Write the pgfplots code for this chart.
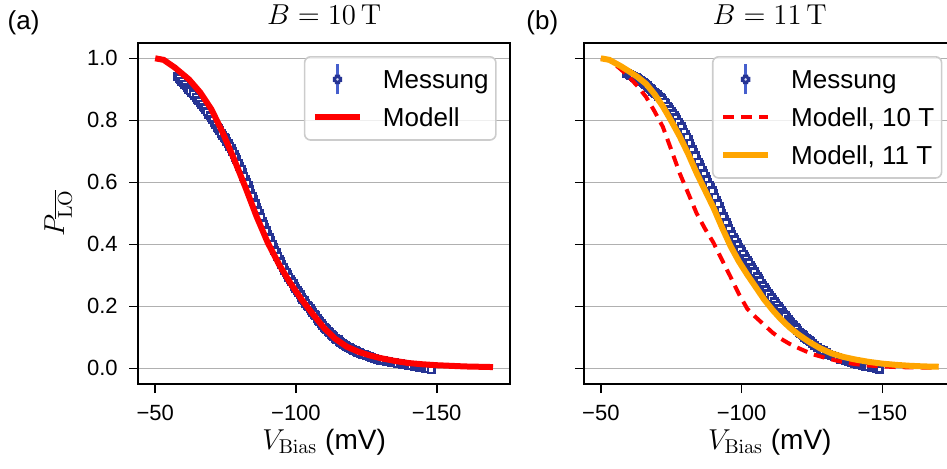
\documentclass[border=0pt]{standalone}
\usepackage[no-math]{fontspec}
\setmainfont{Liberation Sans}
\usepackage{pgfplots}
\pgfplotsset{compat=1.18}
\usepackage{pgfplotstable}

\definecolor{markcol}{RGB}{38,52,148}
\definecolor{errcol}{RGB}{70,95,205}
\definecolor{gridcol}{RGB}{176,176,176}
\definecolor{legframe}{RGB}{204,204,204}
\definecolor{orangeline}{RGB}{255,165,0}

% Messung, B = 10 T
\pgfplotstableread{
V P
-58 0.940
-59 0.931
-60 0.921
-61 0.912
-62 0.899
-63 0.891
-64 0.880
-65 0.868
-66 0.859
-67 0.845
-68 0.834
-69 0.820
-70 0.808
-71 0.794
-72 0.777
-73 0.766
-74 0.751
-75 0.740
-76 0.725
-77 0.709
-78 0.689
-79 0.672
-80 0.651
-81 0.632
-82 0.609
-83 0.589
-84 0.565
-85 0.544
-86 0.519
-87 0.499
-88 0.475
-89 0.455
-90 0.431
-91 0.412
-92 0.389
-93 0.372
-94 0.351
-95 0.336
-96 0.317
-97 0.303
-98 0.285
-99 0.273
-100 0.257
-101 0.245
-102 0.229
-103 0.218
-104 0.203
-105 0.193
-106 0.179
-107 0.169
-108 0.155
-109 0.146
-110 0.133
-111 0.125
-112 0.114
-113 0.107
-114 0.097
-115 0.092
-116 0.083
-117 0.078
-118 0.070
-119 0.067
-120 0.060
-121 0.057
-122 0.051
-123 0.049
-124 0.044
-125 0.042
-126 0.037
-127 0.036
-128 0.031
-129 0.030
-130 0.026
-131 0.026
-132 0.022
-133 0.022
-134 0.018
-135 0.018
-136 0.014
-137 0.014
-138 0.011
-139 0.011
-140 0.008
-141 0.008
-142 0.005
-143 0.005
-144 0.002
-145 0.002
-146 -0.001
-147 -0.002
-148 -0.005
-58.5 0.936
-59.5 0.926
-60.5 0.917
-61.5 0.905
-62.5 0.895
-63.5 0.886
-64.5 0.874
-65.5 0.864
-66.5 0.852
-67.5 0.840
-68.5 0.827
-69.5 0.814
-70.5 0.801
-71.5 0.785
-72.5 0.772
-73.5 0.758
-74.5 0.746
-75.5 0.732
-76.5 0.717
-77.5 0.699
-78.5 0.681
-79.5 0.661
-80.5 0.642
-81.5 0.620
-82.5 0.599
-83.5 0.577
-84.5 0.555
-85.5 0.531
-86.5 0.509
-87.5 0.487
-88.5 0.465
-89.5 0.443
-90.5 0.421
-91.5 0.400
-92.5 0.380
-93.5 0.361
-94.5 0.344
-95.5 0.326
-96.5 0.310
-97.5 0.294
-98.5 0.279
-99.5 0.265
-100.5 0.251
-101.5 0.237
-102.5 0.223
-103.5 0.210
-104.5 0.198
-105.5 0.186
-106.5 0.174
-107.5 0.162
-108.5 0.150
-109.5 0.139
-110.5 0.129
-111.5 0.119
-112.5 0.110
-113.5 0.102
-114.5 0.094
-115.5 0.087
-116.5 0.080
-117.5 0.074
-118.5 0.068
-119.5 0.063
-120.5 0.058
-121.5 0.054
-122.5 0.050
-123.5 0.046
-124.5 0.043
}\messA

% Modell, B = 10 T (panel a)
\pgfplotstableread{
V P
-50 1.000
-53 0.995
-57 0.970
-62 0.932
-66 0.890
-70 0.835
-74 0.760
-78 0.675
-82 0.585
-86 0.490
-90 0.405
-94 0.335
-98 0.275
-102 0.222
-106 0.175
-110 0.130
-114 0.095
-118 0.070
-122 0.054
-126 0.042
-130 0.033
-135 0.024
-140 0.017
-145 0.013
-150 0.010
-155 0.008
-160 0.006
-165 0.005
-170 0.004
}\modA

% Messung, B = 11 T
\pgfplotstableread{
V P
-59 0.952
-60 0.948
-61 0.944
-62 0.939
-63 0.935
-64 0.929
-65 0.922
-66 0.915
-67 0.907
-68 0.899
-69 0.890
-70 0.882
-71 0.874
-72 0.865
-73 0.853
-74 0.840
-75 0.828
-76 0.815
-77 0.801
-78 0.788
-79 0.771
-80 0.754
-81 0.737
-82 0.716
-83 0.696
-84 0.675
-85 0.656
-86 0.638
-87 0.619
-88 0.600
-89 0.582
-90 0.563
-91 0.542
-92 0.521
-93 0.500
-94 0.480
-95 0.460
-96 0.440
-97 0.423
-98 0.407
-99 0.390
-100 0.376
-101 0.361
-102 0.347
-103 0.333
-104 0.318
-105 0.304
-106 0.289
-107 0.275
-108 0.260
-109 0.247
-110 0.234
-111 0.221
-112 0.209
-113 0.198
-114 0.186
-115 0.175
-116 0.163
-117 0.152
-118 0.142
-119 0.132
-120 0.122
-121 0.113
-122 0.105
-123 0.096
-124 0.089
-125 0.081
-126 0.074
-127 0.068
-128 0.062
-129 0.056
-130 0.051
-131 0.046
-132 0.041
-133 0.037
-134 0.034
-135 0.030
-136 0.027
-137 0.024
-138 0.021
-139 0.018
-140 0.016
-141 0.013
-142 0.011
-143 0.009
-144 0.007
-145 0.005
-146 0.003
-147 0.001
-148 -0.001
-149 -0.004
-59.5 0.950
-60.5 0.946
-61.5 0.941
-62.5 0.937
-63.5 0.932
-64.5 0.925
-65.5 0.918
-66.5 0.911
-67.5 0.903
-68.5 0.894
-69.5 0.886
-70.5 0.878
-71.5 0.869
-72.5 0.859
-73.5 0.846
-74.5 0.834
-75.5 0.821
-76.5 0.808
-77.5 0.794
-78.5 0.779
-79.5 0.762
-80.5 0.745
-81.5 0.726
-82.5 0.706
-83.5 0.685
-84.5 0.665
-85.5 0.647
-86.5 0.628
-87.5 0.609
-88.5 0.591
-89.5 0.572
-90.5 0.552
-91.5 0.531
-92.5 0.510
-93.5 0.490
-94.5 0.470
-95.5 0.450
-96.5 0.431
-97.5 0.415
-98.5 0.398
-99.5 0.383
-100.5 0.368
-101.5 0.354
-102.5 0.340
-103.5 0.325
-104.5 0.311
-105.5 0.296
-106.5 0.282
-107.5 0.267
-108.5 0.253
-109.5 0.240
-110.5 0.227
-111.5 0.215
-112.5 0.203
-113.5 0.192
-114.5 0.180
-115.5 0.169
-116.5 0.157
-117.5 0.147
-118.5 0.137
-119.5 0.127
-120.5 0.117
-121.5 0.109
-122.5 0.100
-123.5 0.092
-124.5 0.085
}\messB

% Modell, 10 T (panel b)
\pgfplotstableread{
V P
-50 1.000
-53 0.995
-57 0.965
-60 0.940
-63 0.910
-66 0.876
-69 0.830
-72 0.779
-75 0.705
-78 0.629
-81 0.565
-84 0.500
-87 0.450
-90 0.405
-93 0.350
-96 0.296
-99 0.240
-102 0.192
-105 0.165
-108 0.140
-111 0.115
-114 0.095
-117 0.079
-120 0.066
-125 0.046
-130 0.033
-135 0.022
-140 0.014
-145 0.009
-150 0.006
-155 0.004
-160 0.003
-170 0.002
}\modBten

% Modell, 11 T (panel b)
\pgfplotstableread{
V P
-50 1.000
-53 0.995
-57 0.975
-60 0.958
-63 0.940
-66 0.918
-69 0.885
-72 0.845
-75 0.798
-78 0.748
-81 0.692
-84 0.630
-87 0.574
-90 0.518
-93 0.455
-96 0.395
-99 0.345
-102 0.302
-105 0.262
-108 0.222
-111 0.188
-114 0.158
-117 0.132
-120 0.110
-124 0.085
-128 0.064
-132 0.048
-136 0.037
-140 0.029
-145 0.021
-150 0.015
-155 0.011
-160 0.008
-165 0.006
-170 0.005
}\modBeleven

\pgfplotsset{
  panel/.style={
    scale only axis, width=185.8pt, height=170.5pt,
    clip marker paths=true,
    x dir=reverse, xmin=-176, xmax=-44, ymin=-0.05, ymax=1.05,
    xtick={-50,-100,-150}, xticklabels={−50,−100,−150},
    ytick={0,0.2,0.4,0.6,0.8,1.0},
    tick align=outside, tick pos=left,
    major tick length=4.6pt,
    every tick/.style={black, line width=0.8pt},
    axis line style={line width=0.9pt},
    ymajorgrids, grid style={gridcol, line width=0.8pt},
    tick label style={font=\fontsize{11}{13}\selectfont},
    every x tick label/.append style={inner sep=0pt, anchor=north, yshift=-5.9pt},
    every y tick label/.append style={inner sep=0pt, anchor=east, xshift=-5.5pt},
    title style={font=\fontsize{14}{16}\selectfont, at={(0.5,1.0528)}, anchor=base, inner sep=0pt, yshift=-6pt},
    xlabel style={font=\fontsize{14}{16}\selectfont, at={(0.5,-0.1912)}, anchor=base, inner sep=0pt},
    legend cell align=left,
    legend style={
      at={(1,1)}, anchor=north east, xshift=-6.6pt, yshift=-6.6pt,
      draw=legframe, line width=0.8pt, rounded corners=3pt,
      fill=white, fill opacity=0.8, text opacity=1,
      font=\fontsize{13}{15}\selectfont,
      inner xsep=3.7pt, inner ysep=1.8pt,
      row sep=0pt,
      nodes={inner sep=0pt, text height=14.2pt, text depth=4.8pt},
      /tikz/every odd column/.append style={column sep=10pt},
    },
  },
  messstyle/.style={
    color=markcol, only marks, mark=square*, mark size=1.6pt,
    mark options={draw=markcol, fill=white, line width=1.3pt},
    error bars/.cd, y dir=both, y fixed=0.012,
    error bar style={errcol, line width=1.2pt}, error mark=none,
  },
  messlegend/.style={
    legend image code/.code={
      \path (0pt,0pt) (22.5pt,0pt);
      \draw[errcol, line width=1.5pt] (11.25pt,-7.5pt) -- (11.25pt,7.5pt);
      \draw[markcol, line width=1.2pt, fill=white] (9.5pt,-1.75pt) rectangle (13pt,1.75pt);
    },
  },
  linelegend/.style={
    legend image code/.code={
      \draw[##1] plot coordinates {(0pt,0pt) (22.5pt,0pt)};
    },
  },
}

\begin{document}
\begin{tikzpicture}
\useasboundingbox (0,0) rectangle (473.5pt,234pt);
\clip (0,0) rectangle (473.5pt,234pt);

\begin{axis}[panel,
  at={(69.15pt,42.1pt)}, anchor=south west,
  yticklabels={0.0,0.2,0.4,0.6,0.8,1.0},
  title={$B = 10\,\mathrm{T}$},
  xlabel={$V_{\mathrm{Bias}}$ (mV)},
  ylabel={$P_{\overline{\mathrm{LO}}}$},
  ylabel style={font=\fontsize{14}{16}\selectfont, at={(-0.1776,0.5)}, anchor=south, inner sep=0pt},
]
\addplot[messlegend, messstyle] table[x=V, y=P] {\messA};
\addlegendentry{Messung}
\addplot[red, line width=3pt, linelegend] table[x=V, y=P] {\modA};
\addlegendentry{Modell}
\end{axis}

\begin{axis}[panel,
  at={(292pt,42.1pt)}, anchor=south west,
  yticklabels={},
  title={$B = 11\,\mathrm{T}$},
  xlabel={$V_{\mathrm{Bias}}$ (mV)},
]
\addplot[messlegend, messstyle] table[x=V, y=P] {\messB};
\addlegendentry{Messung}
\addplot[red, line width=2pt, dash pattern=on 5.5pt off 3.5pt, linelegend] table[x=V, y=P] {\modBten};
\addlegendentry{Modell, 10 T}
\addplot[orangeline, line width=3pt, linelegend] table[x=V, y=P] {\modBeleven};
\addlegendentry{Modell, 11 T}
\end{axis}

\node[anchor=base west, inner sep=0pt, font=\fontsize{13}{15}\selectfont] at (3.65pt,219.5pt) {(a)};
\node[anchor=base west, inner sep=0pt, font=\fontsize{13}{15}\selectfont] at (263pt,219.5pt) {(b)};
\end{tikzpicture}
\end{document}
